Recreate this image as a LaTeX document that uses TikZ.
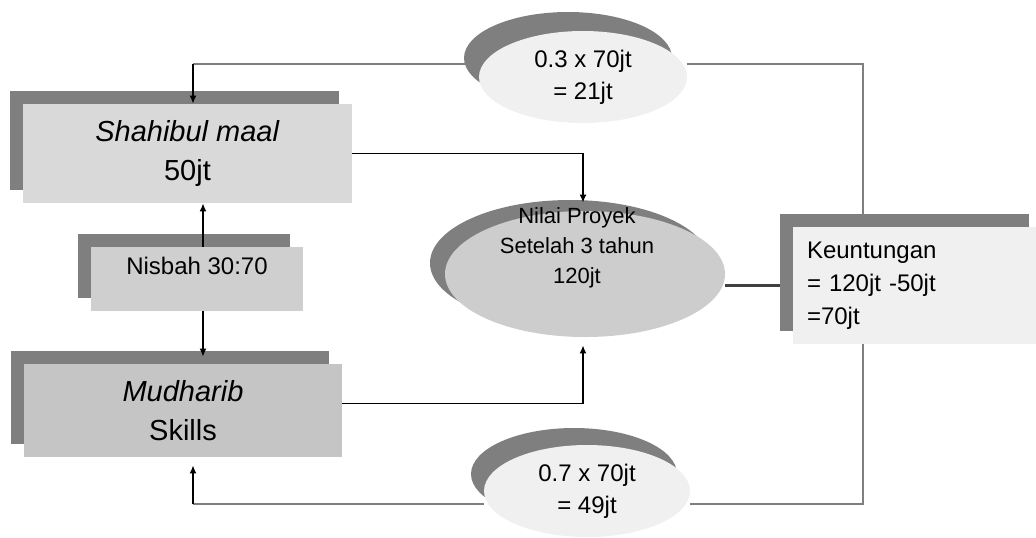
\documentclass[tikz,border=0pt]{standalone}
\usepackage{fontspec}
\setmainfont{Liberation Sans}
\usepackage{tikz}
\usetikzlibrary{arrows.meta}
\usetikzlibrary{shapes}
\usetikzlibrary{shadows}
\usetikzlibrary{backgrounds}
\definecolor{abutua}{HTML}{7F7F7F}
\definecolor{abumuda}{HTML}{D9D9D9}
\definecolor{abusedang}{HTML}{CDCDCD}
\definecolor{abuterang}{HTML}{F0F0F0}
\definecolor{garisgelap}{HTML}{404040}
\tikzstyle{kotak}=[fill=abumuda,inner sep=0pt,drop shadow={shadow xshift=-6.5pt,shadow yshift=6.5pt,fill=abutua,opacity=1}]
\tikzstyle{lonjong}=[ellipse,fill=abuterang,inner sep=0pt,minimum width=104pt,minimum height=46pt,align=center,font=\fontsize{12}{16}\selectfont]
\tikzstyle{garis}=[draw=abutua,line width=1pt]
\tikzstyle{tebal}=[draw=garisgelap,line width=1.5pt]
\tikzstyle{panah}=[draw=black,line width=0.7pt,-{Latex[length=4pt,width=3.5pt]}]

\begin{document}
\begin{tikzpicture}[x=0.5pt,y=-0.5pt]
\useasboundingbox (0,0) rectangle (1036,537);

% kotak sebelah kiri
\node [kotak,minimum width=164.5pt,minimum height=49.5pt,align=center,font=\fontsize{14.5}{19.5}\selectfont] (shahibul) at (187.5,153.5) {\textit{Shahibul maal}\\50jt};
\node [kotak,fill=abusedang!95!white,minimum width=106pt,text height=13.5pt,text depth=18.5pt,font=\fontsize{12}{14}\selectfont] (nisbah) at (197,279) {Nisbah 30:70};
\node [kotak,fill=abusedang!90!gray,minimum width=159pt,minimum height=46.5pt,align=center,font=\fontsize{14.5}{19.5}\selectfont] (mudharib) at (183,410.5) {\textit{Mudharib}\\Skills};

% proyek dan keuntungan
\node [ellipse,fill=abusedang,inner sep=0pt,minimum width=140pt,minimum height=63pt,drop shadow={shadow xshift=-7.5pt,shadow yshift=5.5pt,fill=abutua,opacity=1}] (nilai) at (585,274) {};
\node [align=center,font=\fontsize{11}{15}\selectfont] (nilaiteks) at (577,248) {Nilai Proyek\\Setelah 3 tahun\\120jt};
\node [kotak,fill=abuterang,minimum height=58.5pt,text width=110.5pt,inner xsep=7pt,align=left,font=\fontsize{12}{16.5}\selectfont] (keun) at (917.5,285.5) {Keuntungan\\= 120jt -50jt\\=70jt};

% pembagian
\node [lonjong,drop shadow={shadow xshift=-7.5pt,shadow yshift=9.5pt,fill=abutua,opacity=1}] (kecil1) at (583,77) {0.3 x 70jt\\= 21jt};
\node [lonjong,minimum width=103pt,drop shadow={shadow xshift=-6.5pt,shadow yshift=8.5pt,fill=abutua,opacity=1}] (kecil2) at (587,491) {0.7 x 70jt\\= 49jt};

\coordinate (pojokkiri) at (193,64);
\coordinate (pojokkanan) at (863,64);
\coordinate (bawahkiri) at (193,504);
\coordinate (bawahkanan) at (863,504);
\coordinate (n1) at ([xshift=3pt]nisbah.north);
\coordinate (n2) at ([xshift=3pt]nisbah.south);

\begin{scope}[on background layer]
\draw[garis] (pojokkiri) -- (pojokkiri -| kecil1.west);
\draw[garis] (pojokkanan -| kecil1.east) -- (pojokkanan) -- (pojokkanan |- keun.north);
\draw[garis] (pojokkanan |- keun.south) -- (bawahkanan) -- (bawahkanan -| kecil2.east);
\draw[garis] (bawahkiri -| kecil2.west) -- (bawahkiri);
\draw[tebal] (keun.west -| nilai.east) -- (keun.west);
\end{scope}

\draw[panah] (pojokkiri) -- (pojokkiri |- shahibul.north);
\draw[panah,shorten >=4pt] (bawahkiri) -- (bawahkiri |- mudharib.south);
\draw[panah] (n1) -- (n1 |- shahibul.south);
\draw[panah,shorten >=3.5pt] (n2) -- (n2 |- mudharib.north);
\draw[panah] (shahibul.east) -| ([xshift=-1pt,yshift=4pt]nilai.north);
\draw[panah] ([yshift=3.5pt]mudharib.east) -| ([xshift=-1pt,yshift=-4pt]nilai.south);
\end{tikzpicture}
\end{document}
